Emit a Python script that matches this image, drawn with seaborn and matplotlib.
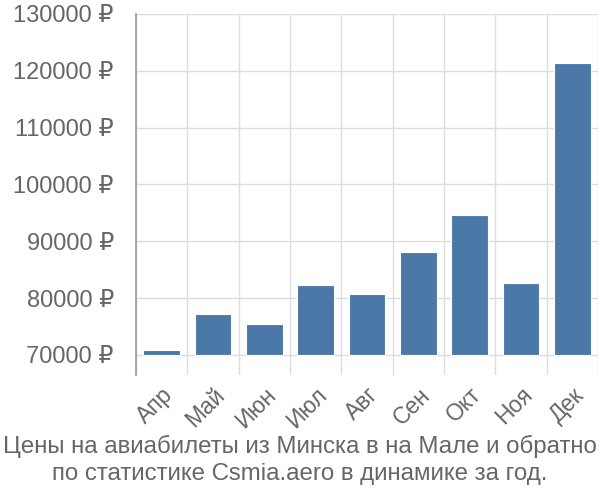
import matplotlib
matplotlib.use("Agg")
import matplotlib.pyplot as plt
import seaborn as sns
import pandas as pd

months = ["Апр", "Май", "Июн", "Июл", "Авг", "Сен", "Окт", "Ноя", "Дек"]
prices = [70800, 77300, 75450, 82300, 80800, 88200, 94600, 82600, 121300]
yticks = [70000, 80000, 90000, 100000, 110000, 120000, 130000]
ytick_labels = [f"{v} ₽" for v in yticks]
title = "Цены на авиабилеты из Минска в на Мале и обратно\nпо статистике Csmia.aero в динамике за год."
base = 70000

sns.set_style("white")
plt.rcParams["font.family"] = ["Liberation Sans", "DejaVu Sans"]

df = pd.DataFrame({"month": months, "price": prices})
fig = plt.figure(figsize=(6, 5), dpi=100)
ax = fig.add_axes([136/600, 1-375/500, 462/600, 361/500])

sns.barplot(data=df, x="month", y="price", color="#4c78a8", saturation=1,
            width=0.72, edgecolor="white", linewidth=0.8, ax=ax, zorder=3)
for p, v in zip(ax.patches, prices):
    p.set_y(base)
    p.set_height(v - base)

ax.set_ylim(66480, 130000)
ax.set_xlim(-0.5, len(months) - 0.5)
ax.set_yticks(yticks)
ax.set_yticklabels(ytick_labels)
ax.set_xticks([i + 0.5 for i in range(-1, len(months))], minor=True)
ax.set_xticks(range(len(months)))
ax.set_xticklabels(months, rotation=45, ha="right", rotation_mode="anchor")

ax.grid(False)
ax.yaxis.grid(True, color="#dddddd", linewidth=1, zorder=0)
ax.xaxis.grid(True, which="minor", color="#dddddd", linewidth=1, zorder=0)
ax.tick_params(axis="y", length=20, width=1, color="#dddddd", labelsize=17, labelcolor="#666666", pad=-4)
ax.tick_params(axis="x", which="major", length=0, labelsize=16.5, labelcolor="#666666", pad=6)
ax.tick_params(axis="x", which="minor", length=0)
for s in ["top", "right", "bottom"]:
    ax.spines[s].set_visible(False)
ax.spines["left"].set_color("#999999")
ax.spines["left"].set_linewidth(1.2)
ax.set_xlabel("")
ax.set_ylabel("")

fig.text(0.5, 1-460/500, title, ha="center", va="center", fontsize=17.3,
         color="#666666", linespacing=1.25)

fig.savefig("out.png", dpi=100)
